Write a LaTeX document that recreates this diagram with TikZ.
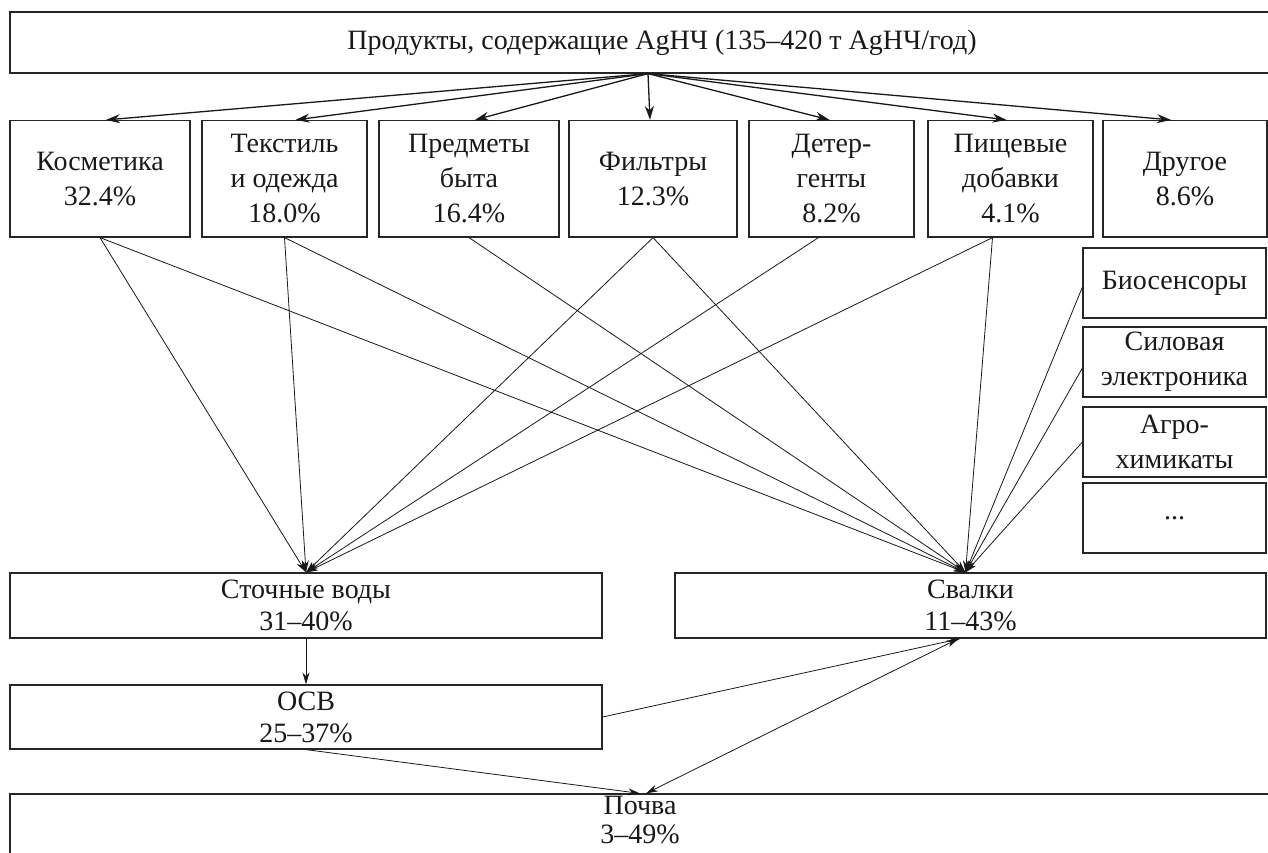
\documentclass[tikz,border=0pt]{standalone}
\usepackage{fontspec}
\setmainfont{Liberation Serif}
\usetikzlibrary{arrows.meta}
\newcommand{\fsz}{\fontsize{28}{35}\selectfont}
\newcommand{\fszb}{\fontsize{28}{32}\selectfont}
\newcommand{\fszc}{\fontsize{28}{29}\selectfont}
\tikzset{
  box/.style={draw=black!85, line width=1.2pt, inner sep=0pt, align=center, font=\fsz, text=black!90},
  rowbox/.style={box, minimum height=116.5pt},
  sidebox/.style={box, minimum width=183pt, minimum height=70pt},
  botbox/.style={box, minimum height=65pt, font=\fszb},
  toparrow/.style={line width=1.3pt, draw=black!90, -{Stealth[length=14pt,width=9pt]}},
  flow/.style={line width=0.8pt, draw=black!90, -{Stealth[length=12pt,width=7pt]}},
  dflow/.style={line width=0.8pt, draw=black!90, {Stealth[length=12pt,width=7pt]}-{Stealth[length=12pt,width=7pt]}}
}
\begin{document}
\begin{tikzpicture}[x=1pt,y=-1pt]
\clip (0,0) rectangle (1268,852);
\fill[white] (0,0) rectangle (1268,852);
% top
\node[box, minimum width=1304pt, minimum height=61pt] (top) at (662,42.5) {Продукты, содержащие AgНЧ (135–420 т AgНЧ/год)};
% row
\node[rowbox, minimum width=180pt] (kos) at (100,178.75) {Косметика\\32.4\%};
\node[rowbox, minimum width=165pt] (tex) at (284.5,178.75) {Текстиль\\и одежда\\18.0\%};
\node[rowbox, minimum width=180pt] (pred) at (469,178.75) {Предметы\\быта\\16.4\%};
\node[rowbox, minimum width=168pt] (fil) at (653,178.75) {Фильтры\\12.3\%};
\node[rowbox, minimum width=165pt] (det) at (831.5,178.75) {Детер-\\генты\\8.2\%};
\node[rowbox, minimum width=165pt] (pish) at (1010.5,178.75) {Пищевые\\добавки\\4.1\%};
\node[rowbox, minimum width=164pt] (dr) at (1185,178.75) {Другое\\8.6\%};
% side column
\node[sidebox] (bio) at (1174.5,283) {Биосенсоры};
\node[sidebox] (sil) at (1174.5,362) {Силовая\\электроника};
\node[sidebox] (agro) at (1174.5,442) {Агро-\\химикаты};
\node[sidebox] (etc) at (1174.5,518) {...};
% bottom
\node[botbox, minimum width=592pt] (st) at (306,605.5) {Сточные воды\\31–40\%};
\node[botbox, minimum width=591pt] (sv) at (970.5,605.5) {Свалки\\11–43\%};
\node[botbox, minimum width=592pt, minimum height=64pt] (osv) at (306,717) {ОСВ\\25–37\%};
\node[box, minimum width=1260pt, minimum height=90pt,
      label={[anchor=north, align=center, font=\fszc, text=black!90, inner sep=3pt]north:Почва\\3–49\%}]
      (poch) at (640,839) {};
% top arrows
\draw[toparrow] ([xshift=-14pt]top.south) -- ([xshift=6pt]kos.north);
\draw[toparrow] ([xshift=-14pt]top.south) -- ([xshift=11pt]tex.north);
\draw[toparrow] ([xshift=-14pt]top.south) -- ([xshift=6pt]pred.north);
\draw[toparrow] ([xshift=-14pt]top.south) -- ([xshift=-3pt]fil.north);
\draw[toparrow] ([xshift=-14pt]top.south) -- ([xshift=-2pt]det.north);
\draw[toparrow] ([xshift=-14pt]top.south) -- ([xshift=-4pt]pish.north);
\draw[toparrow] ([xshift=-14pt]top.south) -- ([xshift=-14pt]dr.north);
% to waste water
\draw[flow] (kos.south) -- (st.north);
\draw[flow] (tex.south) -- (st.north);
\draw[flow] (fil.south) -- (st.north);
\draw[flow] ([xshift=-13pt]det.south) -- (st.north);
\draw[flow] ([xshift=-18pt]pish.south) -- (st.north);
% to landfills
\draw[flow] (kos.south) -- ([xshift=-5pt]sv.north);
\draw[flow] (tex.south) -- ([xshift=-5pt]sv.north);
\draw[flow] (pred.south) -- ([xshift=-5pt]sv.north);
\draw[flow] (fil.south) -- ([xshift=-5pt]sv.north);
\draw[flow] ([xshift=-18pt]pish.south) -- ([xshift=-5pt]sv.north);
\draw[flow] ([yshift=-4pt]bio.west) -- ([xshift=-5pt]sv.north);
\draw[flow] ([yshift=-6pt]sil.west) -- ([xshift=-5pt]sv.north);
\draw[flow] (agro.west) -- ([xshift=-5pt]sv.north);
% lower
\draw[flow] (st.south) -- (osv.north);
\draw[flow] (osv.east) -- ([xshift=-10pt]sv.south);
\draw[flow] (osv.south) -- (poch.north);
\draw[dflow] ([xshift=-12pt]sv.south) -- ([xshift=6pt]poch.north);
\end{tikzpicture}
\end{document}
